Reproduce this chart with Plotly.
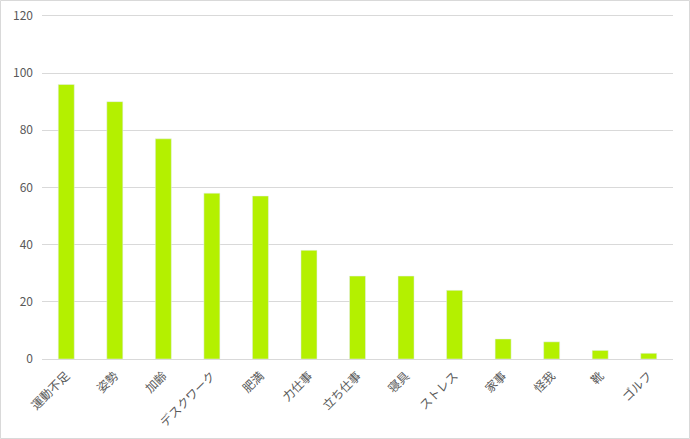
import plotly.graph_objects as go

categories = ['運動不足', '姿勢', '加齢', 'デスクワーク', '肥満', '力仕事', '立ち仕事',
              '寝具', 'ストレス', '家事', '怪我', '靴', 'ゴルフ']
values = [96, 90, 77, 58, 57, 38, 29, 29, 24, 7, 6, 3, 2]

fig = go.Figure(go.Bar(x=categories, y=values, marker_color='#B4F000', width=0.33))

fig.update_layout(
    width=690, height=439,
    margin=dict(l=42, r=17, t=13, b=80),
    paper_bgcolor='white', plot_bgcolor='white',
    font=dict(family='Noto Sans CJK JP', size=12, color='#595959'),
    showlegend=False,
    xaxis=dict(tickangle=-45, showline=True, linecolor='#D9D9D9', ticks='', showgrid=False,
               automargin=False, ticklabelstandoff=4),
    # a little headroom so the 120 gridline is drawn
    yaxis=dict(range=[0, 121], tickvals=[0, 20, 40, 60, 80, 100, 120],
               gridcolor='#D9D9D9', zeroline=False, ticks='',
               ticklabelstandoff=8, automargin=False),
    shapes=[dict(type='rect', xref='paper', yref='paper',
                 x0=-41.5/631, x1=1+16.5/631, y0=-79.5/346, y1=358.5/346,
                 line=dict(color='#D9D9D9', width=1))],
)

# browser default body margin would shift the figure
fig.write_html('out.html', config={'displayModeBar': False},
               post_script="document.body.style.margin='0';document.body.style.overflow='hidden';")
